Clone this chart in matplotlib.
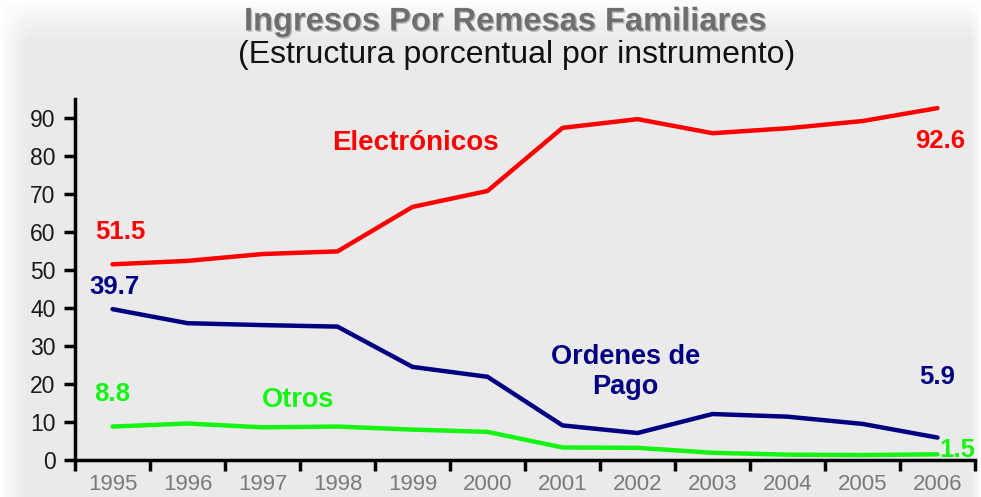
import numpy as np
import matplotlib
matplotlib.use("Agg")
import matplotlib.pyplot as plt
import matplotlib.patheffects as pe

years = ["1995", "1996", "1997", "1998", "1999", "2000",
         "2001", "2002", "2003", "2004", "2005", "2006"]
electronicos = [51.5, 52.4, 54.2, 54.9, 66.6, 70.8, 87.4, 89.7, 86.0, 87.3, 89.2, 92.6]
ordenes = [39.7, 36.0, 35.5, 35.1, 24.5, 21.9, 9.1, 7.1, 12.1, 11.4, 9.5, 5.9]
otros = [8.8, 9.6, 8.6, 8.8, 8.0, 7.4, 3.3, 3.2, 1.9, 1.4, 1.3, 1.5]

RED, NAVY, GREEN = "#FF0000", "#000080", "#14F514"
plt.rcParams["font.family"] = ["Liberation Sans", "DejaVu Sans"]

fig = plt.figure(figsize=(9.81, 4.97), dpi=100)
fig.patch.set_facecolor("white")

# soft grey panel with white fade at the edges
bg = fig.add_axes([0, 0, 1, 1], zorder=-5)
H, W = 497, 981
yy, xx = np.mgrid[0:H, 0:W]
ramp = lambda d, w: np.clip(d / w, 0, 1) ** 0.8
alpha = ramp(xx, 28.0) * ramp(yy, 40.0) * ramp(W - 1 - xx, 10.0)
img = np.zeros((H, W, 4))
img[..., :3] = 0.918
img[..., 3] = alpha
bg.imshow(img, aspect="auto", extent=[0, 1, 0, 1], origin="upper")
bg.axis("off")

ax = fig.add_axes([75 / 981, 37 / 497, 900 / 981, 361 / 497])
ax.set_facecolor("none")
x = np.arange(len(years))
ax.plot(x, electronicos, color=RED, lw=3.2, solid_capstyle="round")
ax.plot(x, ordenes, color=NAVY, lw=3.2, solid_capstyle="round")
ax.plot(x, otros, color=GREEN, lw=3.2, solid_capstyle="round")

ax.set_xlim(-0.5, len(years) - 0.5)
ax.set_ylim(0, 95)
ax.set_yticks(range(0, 91, 10))
ax.set_xticks(np.arange(-0.5, len(years), 1.0))
ax.set_xticklabels([])
ax.set_xticks(x, minor=True)
ax.set_xticklabels(years, minor=True)
ax.tick_params(axis="x", which="major", length=8, width=2.5, direction="out")
ax.tick_params(axis="x", which="minor", length=0, pad=10, labelsize=16, labelcolor="#7a7a7a")
ax.tick_params(axis="y", length=8, width=2.5, direction="out", labelsize=16.5,
               labelcolor="#1a1a1a", pad=6)
for s in ["top", "right"]:
    ax.spines[s].set_visible(False)
for s in ["left", "bottom"]:
    ax.spines[s].set_linewidth(2.5)

bold = dict(fontweight="bold", ha="center", va="center")
ax.text(4.04, 83.4, "Electrónicos", color=RED, fontsize=20, **bold)
ax.text(6.84, 23.2, "Ordenes de\nPago", color=NAVY, fontsize=19.5, linespacing=1.2, **bold)
ax.text(2.47, 15.8, "Otros", color=GREEN, fontsize=19.5, **bold)

ax.text(0.1, 60.0, f"{electronicos[0]:.1f}", color=RED, fontsize=18.5, **bold)
ax.text(0.03, 45.5, f"{ordenes[0]:.1f}", color=NAVY, fontsize=18.5, **bold)
ax.text(0.0, 17.4, f"{otros[0]:.1f}", color=GREEN, fontsize=18.5, **bold)
ax.text(11.04, 84.0, f"{electronicos[-1]:.1f}", color=RED, fontsize=18.5, **bold)
ax.text(11.0, 21.8, f"{ordenes[-1]:.1f}", color=NAVY, fontsize=18.5, **bold)
ax.text(11.27, 2.6, f"{otros[-1]:.1f}", color=GREEN, fontsize=18.5, clip_on=False, **bold)

fig.text(0.515, 0.956, "Ingresos Por Remesas Familiares", fontsize=23.5, fontweight="bold",
         color="#6e6e6e", ha="center", va="center",
         path_effects=[pe.withSimplePatchShadow(offset=(1, -1), alpha=0.25)])
fig.text(0.527, 0.889, "(Estructura porcentual por instrumento)", fontsize=23,
         color="#111111", ha="center", va="center")

fig.savefig("out.png", dpi=100)
